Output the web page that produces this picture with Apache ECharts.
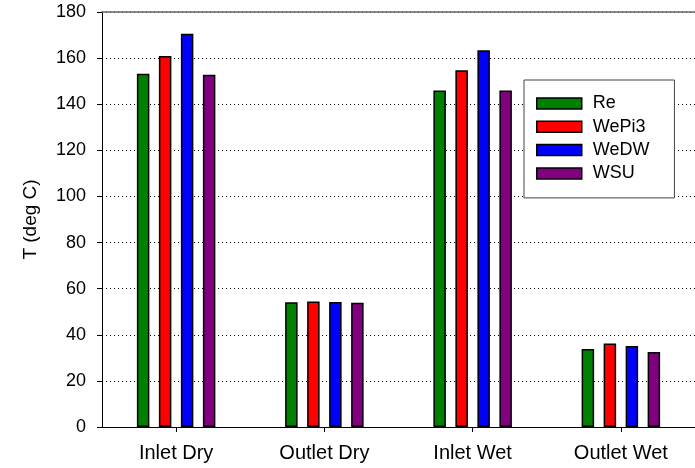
<!DOCTYPE html>
<html>
<head>
<meta charset="utf-8">
<script src="https://cdn.jsdelivr.net/npm/echarts@6/dist/echarts.min.js"></script>
<style>
html,body{margin:0;padding:0;background:#fff;}
#chart{width:695px;height:468px;}
</style>
</head>
<body>
<div id="chart"></div>
<script>
const categories = ['Inlet Dry', 'Outlet Dry', 'Inlet Wet', 'Outlet Wet'];
const seriesNames = ['Re', 'WePi3', 'WeDW', 'WSU'];
const reValues = [153.2, 54.1, 146.0, 33.8];
const wepi3Values = [160.9, 54.4, 154.7, 36.2];
const wedwValues = [170.6, 54.2, 163.4, 35.1];
const wsuValues = [152.8, 53.9, 146.0, 32.5];
const yTicks = [0, 20, 40, 60, 80, 100, 120, 140, 160, 180];

const colors = ['#008000', '#ff0000', '#0000ff', '#800080'];
const values = [reValues, wepi3Values, wedwValues, wsuValues];
const FONT = '"Liberation Sans", Arial, sans-serif';

const chart = echarts.init(document.getElementById('chart'), null, {renderer: 'canvas'});
chart.setOption({
  animation: false,
  backgroundColor: '#fff',
  grid: {left: 102, top: 12, width: 596, height: 415, containLabel: false},
  legend: {
    left: 524, top: 80,
    orient: 'vertical',
    data: seriesNames,
    itemWidth: 45, itemHeight: 11, itemGap: 5.3,
    padding: [14.5, 25, 15.5, 12],
    backgroundColor: '#fff',
    borderColor: '#444', borderWidth: 1, borderRadius: 0,
    icon: 'rect',
    itemStyle: {borderColor: '#000', borderWidth: 1.5},
    textStyle: {fontFamily: FONT, fontSize: 18, color: '#000', padding: [0, 0, 0, 6]}
  },
  xAxis: [{
    type: 'category',
    data: categories,
    boundaryGap: true,
    axisLine: {lineStyle: {color: '#000', width: 1}},
    axisTick: {show: true, alignWithLabel: true, length: 5, lineStyle: {color: '#000'}},
    axisLabel: {fontFamily: FONT, fontSize: 20, color: '#000', margin: 16},
    splitLine: {show: false}
  }, {
    type: 'category',
    data: categories,
    position: 'top',
    axisLine: {show: true, lineStyle: {color: '#666', width: 1.5}},
    axisTick: {show: false},
    axisLabel: {show: false},
    splitLine: {show: false}
  }],
  yAxis: {
    type: 'value',
    min: yTicks[0], max: yTicks[yTicks.length - 1], interval: yTicks[1] - yTicks[0],
    name: 'T (deg C)',
    nameLocation: 'middle',
    nameGap: 62,
    nameTextStyle: {fontFamily: FONT, fontSize: 19, color: '#000'},
    axisLine: {show: true, lineStyle: {color: '#000', width: 1}},
    axisTick: {show: true, inside: false, length: 5, lineStyle: {color: '#000'}},
    axisLabel: {fontFamily: FONT, fontSize: 18, color: '#000', margin: 16},
    splitLine: {show: true, lineStyle: {color: '#000', type: [1, 3], width: 1}}
  },
  series: seriesNames.map((n, i) => ({
    name: n,
    type: 'bar',
    data: values[i],
    barWidth: 12.5,
    barGap: '76%',
    itemStyle: {color: colors[i], borderColor: '#000', borderWidth: 1.5}
  }))
});
</script>
</body>
</html>
